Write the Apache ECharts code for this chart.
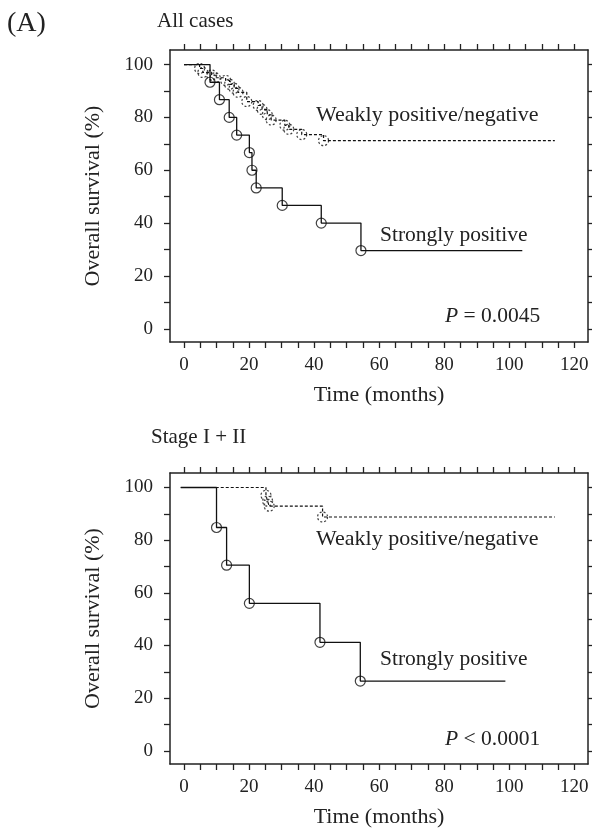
<!DOCTYPE html>
<html>
<head>
<meta charset="utf-8">
<script src="https://cdn.jsdelivr.net/npm/echarts@6/dist/echarts.min.js"></script>
<style>
html, body { margin: 0; padding: 0; background: #fff; }
#chart { width: 592px; height: 830px; }
</style>
</head>
<body>
<div id="chart"></div>
<script>
// tick values
var xTicks = [0, 5, 10, 15, 20, 25, 30, 35, 40, 45, 50, 55, 60, 65, 70, 75, 80, 85, 90, 95, 100, 105, 110, 115, 120];
var xLabels = [0, 20, 40, 60, 80, 100, 120];
var yTicks = [0, 10, 20, 30, 40, 50, 60, 70, 80, 90, 100];
var yLabels = [0, 20, 40, 60, 80, 100];

// All cases - strongly positive
var strongAllT = [0, 8.0, 10.9, 13.9, 16.2, 20.1, 20.9, 22.2, 30.2, 42.2, 54.4, 104];
var strongAllS = [100, 93.3, 86.7, 80.0, 73.3, 66.7, 60.0, 53.3, 46.7, 40.0, 29.6, 29.6];
// All cases - weakly positive/negative
var weakAllT = [0, 4.8, 5.8, 8.5, 9.6, 12.8, 14.0, 15.4, 16.6, 19.3, 22.8, 24.0, 25.6, 26.8, 31.0, 32.2, 36.2, 42.9, 114];
var weakAllS = [100, 98.5, 97.0, 96.0, 95.0, 94.0, 92.5, 91.0, 89.5, 86.0, 84.5, 83.0, 81.0, 79.0, 77.0, 75.5, 73.5, 71.2, 71.2];

// Stage I + II - strongly positive
var strongStageT = [-1, 10.0, 13.1, 20.1, 41.8, 54.2, 98.8];
var strongStageS = [100, 84.8, 70.5, 56.0, 41.2, 26.5, 26.5];
// Stage I + II - weakly positive/negative
var weakStageT = [-1, 25.2, 25.7, 26.2, 42.6, 114];
var weakStageS = [100, 97.0, 94.8, 92.9, 88.8, 88.8];

var FONT = '"Liberation Serif", "DejaVu Serif", serif';
var INK = '#222';

function pairs(t, s){
	var out = [];
	for (var i = 0; i < t.length; i++) {
		out.push([t[i], s[i]]);
	}
	return out;
}
// censor marks sit on each drop (not first / last point)
function drops(t, s){
	return pairs(t, s).slice(1, t.length - 1);
}

function xAx(grid, pos){
	var bottom = pos === 'bottom';
	return {
		type: 'value', gridIndex: grid, position: pos,
		min: -4.3, max: 124.2,
		axisLine: {show: true, onZero: false, lineStyle: {color: INK, width: 1.5}},
		axisTick: {show: true, inside: false, length: 6, customValues: xTicks, lineStyle: {color: INK, width: 1.3}},
		axisLabel: {show: bottom, customValues: xLabels, margin: 14, fontFamily: FONT, fontSize: 19, color: INK},
		splitLine: {show: false},
		name: bottom ? 'Time (months)' : '',
		nameLocation: 'middle', nameGap: 42,
		nameTextStyle: {fontFamily: FONT, fontSize: 22, color: INK}
	};
}
function yAx(grid, pos){
	var left = pos === 'left';
	return {
		type: 'value', gridIndex: grid, position: pos,
		min: -5, max: 105.5,
		axisLine: {show: true, onZero: false, lineStyle: {color: INK, width: 1.5}},
		axisTick: {show: true, inside: false, length: 6, customValues: yTicks, lineStyle: {color: INK, width: 1.3}},
		axisLabel: {show: left, customValues: yLabels, margin: 17, fontFamily: FONT, fontSize: 19, color: INK},
		splitLine: {show: false},
		name: left ? 'Overall survival (%)' : '',
		nameLocation: 'middle', nameGap: 66,
		nameTextStyle: {fontFamily: FONT, fontSize: 22, color: INK}
	};
}

function stepLine(xi, yi, data, dotted){
	return {
		type: 'line', xAxisIndex: xi, yAxisIndex: yi, step: 'end',
		data: data, showSymbol: false, symbol: 'none', animation: false, silent: true,
		lineStyle: {color: '#111', width: dotted ? 1.2 : 1.3, type: dotted ? [3, 2] : 'solid'}
	};
}
function censor(xi, yi, data, dotted){
	return {
		type: 'scatter', xAxisIndex: xi, yAxisIndex: yi, data: data,
		symbol: 'circle', symbolSize: 10, animation: false, silent: true,
		itemStyle: {color: 'rgba(0,0,0,0)', borderColor: '#111', borderWidth: 1.2, borderType: dotted ? [2, 2] : 'solid'}
	};
}

function txt(x, y, text, size, rich){
	var o = {
		type: 'text', x: x, y: y, silent: true,
		style: {text: text, fontFamily: FONT, fontSize: size, fill: INK, verticalAlign: 'middle', align: 'left'}
	};
	if (rich) {
		o.style.rich = {i: {fontFamily: FONT, fontSize: size, fontStyle: 'italic', fill: INK}};
	}
	return o;
}

var chart = echarts.init(document.getElementById('chart'), null, {renderer: 'canvas'});
var option = {
	backgroundColor: '#fff',
	animation: false,
	grid: [
		{left: 170, top: 50, width: 418, height: 292},
		{left: 170, top: 473, width: 418, height: 291}
	],
	xAxis: [xAx(0, 'bottom'), xAx(0, 'top'), xAx(1, 'bottom'), xAx(1, 'top')],
	yAxis: [yAx(0, 'left'), yAx(0, 'right'), yAx(1, 'left'), yAx(1, 'right')],
	series: [
		stepLine(0, 0, pairs(strongAllT, strongAllS), false),
		censor(0, 0, drops(strongAllT, strongAllS), false),
		stepLine(0, 0, pairs(weakAllT, weakAllS), true),
		censor(0, 0, drops(weakAllT, weakAllS), true),
		stepLine(2, 2, pairs(strongStageT, strongStageS), false),
		censor(2, 2, drops(strongStageT, strongStageS), false),
		stepLine(2, 2, pairs(weakStageT, weakStageS), true),
		censor(2, 2, drops(weakStageT, weakStageS), true)
	],
	graphic: [
		txt(7, 24, '(A)', 28),
		txt(157, 21, 'All cases', 21),
		txt(151, 437, 'Stage I + II', 21),
		txt(316, 115, 'Weakly positive/negative', 22),
		txt(380, 235, 'Strongly positive', 21.5),
		txt(445, 316, '{i|P} = 0.0045', 21.5, true),
		txt(316, 539, 'Weakly positive/negative', 22),
		txt(380, 659, 'Strongly positive', 21.5),
		txt(445, 739, '{i|P} < 0.0001', 21.5, true)
	]
};
chart.setOption(option);
</script>
</body>
</html>
